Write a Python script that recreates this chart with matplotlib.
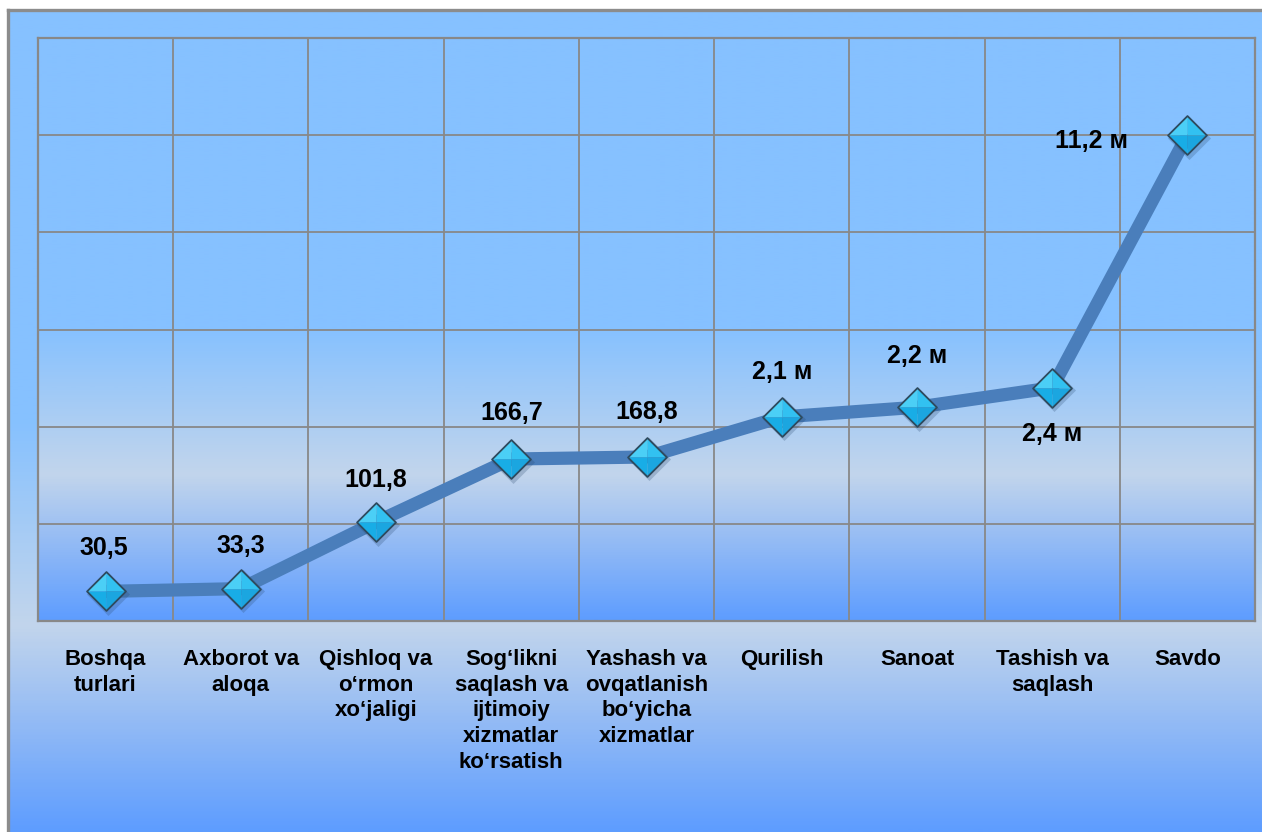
import numpy as np
import matplotlib
matplotlib.use("Agg")
import matplotlib.pyplot as plt
from matplotlib.colors import LinearSegmentedColormap
from matplotlib.path import Path
from matplotlib.transforms import offset_copy

# ---- data ----
categories = ["Boshqa turlari", "Axborot va aloqa", "Qishloq va o‘rmon xo‘jaligi",
              "Sog‘likni saqlash va ijtimoiy xizmatlar ko‘rsatish",
              "Yashash va ovqatlanish bo‘yicha xizmatlar", "Qurilish", "Sanoat",
              "Tashish va saqlash", "Savdo"]
tick_labels = ["Boshqa\nturlari", "Axborot va\naloqa", "Qishloq va\no‘rmon\nxo‘jaligi",
               "Sog‘likni\nsaqlash va\nijtimoiy\nxizmatlar\nko‘rsatish",
               "Yashash va\novqatlanish\nbo‘yicha\nxizmatlar", "Qurilish", "Sanoat",
               "Tashish va\nsaqlash", "Savdo"]
values = [0.305, 0.333, 1.018, 1.667, 1.688, 2.1, 2.2, 2.4, 5.0]
value_labels = ["30,5", "33,3", "101,8", "166,7", "168,8", "2,1 м", "2,2 м", "2,4 м", "11,2 м"]

# label offsets (points) -- styling only
label_offsets = [(-1.5, 31.5), (0, 31), (0, 30.5), (0, 33), (0, 32.5),
                 (0, 32.5), (0, 37), (0, -33), (-69, -4)]

plt.rcParams['font.family'] = ['Liberation Sans', 'DejaVu Sans']

W, H = 1262, 832
fig = plt.figure(figsize=(W / 100, H / 100), dpi=100)
fig.patch.set_facecolor('white')

cmap = LinearSegmentedColormap.from_list(
    'bg', [(0, '#86C1FF'), (0.5, '#86C1FF'), (0.75, '#C2D5EC'), (1, '#5E9DFF')])
grad = np.linspace(0, 1, 600).reshape(-1, 1)

# figure (chart area) background
bg = fig.add_axes([8 / W, 0, 1.02 - 8 / W, (H - 10) / H], zorder=0)
bg.imshow(grad, aspect='auto', cmap=cmap, extent=(0, 1, 0, 1), origin='upper',
          interpolation='bilinear')
bg.set_xlim(0, 1); bg.set_ylim(0, 1)
bg.set_xticks([]); bg.set_yticks([])
for s in ['right', 'bottom']:
    bg.spines[s].set_visible(False)
for s in ['top', 'left']:
    bg.spines[s].set_color('#8C8C8C')
    bg.spines[s].set_linewidth(2.4)

# plot area
ax = fig.add_axes([38 / W, 1 - 621 / H, (1255 - 38) / W, (621 - 38) / H], zorder=1)
n = len(values)
x = np.arange(n)
ax.imshow(grad, aspect='auto', cmap=cmap, extent=(-0.5, n - 0.5, 0, 6), origin='upper',
          interpolation='bilinear', zorder=0)
ax.set_xlim(-0.5, n - 0.5)
ax.set_ylim(0, 6)

grid_c = '#888888'
ax.set_yticks(range(1, 6))
ax.set_xticks(np.arange(0.5, n - 0.5, 1), minor=True)
ax.grid(which='minor', axis='x', color=grid_c, lw=1.3, zorder=1)
ax.grid(which='major', axis='y', color=grid_c, lw=1.3, zorder=1)
ax.grid(which='major', axis='x', visible=False)
ax.tick_params(axis='y', left=False, labelleft=False)
ax.tick_params(axis='x', which='both', length=0, pad=20)
ax.set_xticks(x)
ax.set_xticklabels(tick_labels, fontsize=16, fontweight='bold', color='black')
for lbl in ax.get_xticklabels():
    lbl.set_linespacing(1.3)
    lbl.set_verticalalignment('top')
for s in ax.spines.values():
    s.set_color(grid_c)
    s.set_linewidth(1.6)

# line
ax.plot(x, values, color='#4A7EBB', lw=9.5, solid_capstyle='butt',
        solid_joinstyle='round', zorder=3)

# markers: pyramid-like diamond
diamond = Path([(0, 1), (1, 0), (0, -1), (-1, 0), (0, 1)], closed=True)
faces = [
    (Path([(-1, 0), (0, 1), (0, 0), (-1, 0)], closed=True), '#4BCFF6'),
    (Path([(0, 1), (1, 0), (0, 0), (0, 1)], closed=True), '#32C1F1'),
    (Path([(1, 0), (0, -1), (0, 0), (1, 0)], closed=True), '#1BA6E0'),
    (Path([(0, -1), (-1, 0), (0, 0), (0, -1)], closed=True), '#18ADE6'),
]
ms = 28
shadow_tr = offset_copy(ax.transData, fig=fig, x=2, y=-2.5, units='dots')
ax.plot(x, values, ls='none', marker=diamond, ms=ms + 3, mfc='#2A4A70', mec='none',
        alpha=0.25, transform=shadow_tr, zorder=4)
for p, c in faces:
    ax.plot(x, values, ls='none', marker=p, ms=ms, mfc=c, mec='none', zorder=5)
ax.plot(x, values, ls='none', marker=diamond, ms=ms, mfc='none', mec='#2E4A5E',
        mew=1.3, zorder=6)

# data labels
for xi, yi, t, off in zip(x, values, value_labels, label_offsets):
    ax.annotate(t, (xi, yi), xytext=off, textcoords='offset points',
                ha='center', va='center', fontsize=18, fontweight='bold',
                color='black', zorder=7)

fig.savefig('out.png', dpi=100)
